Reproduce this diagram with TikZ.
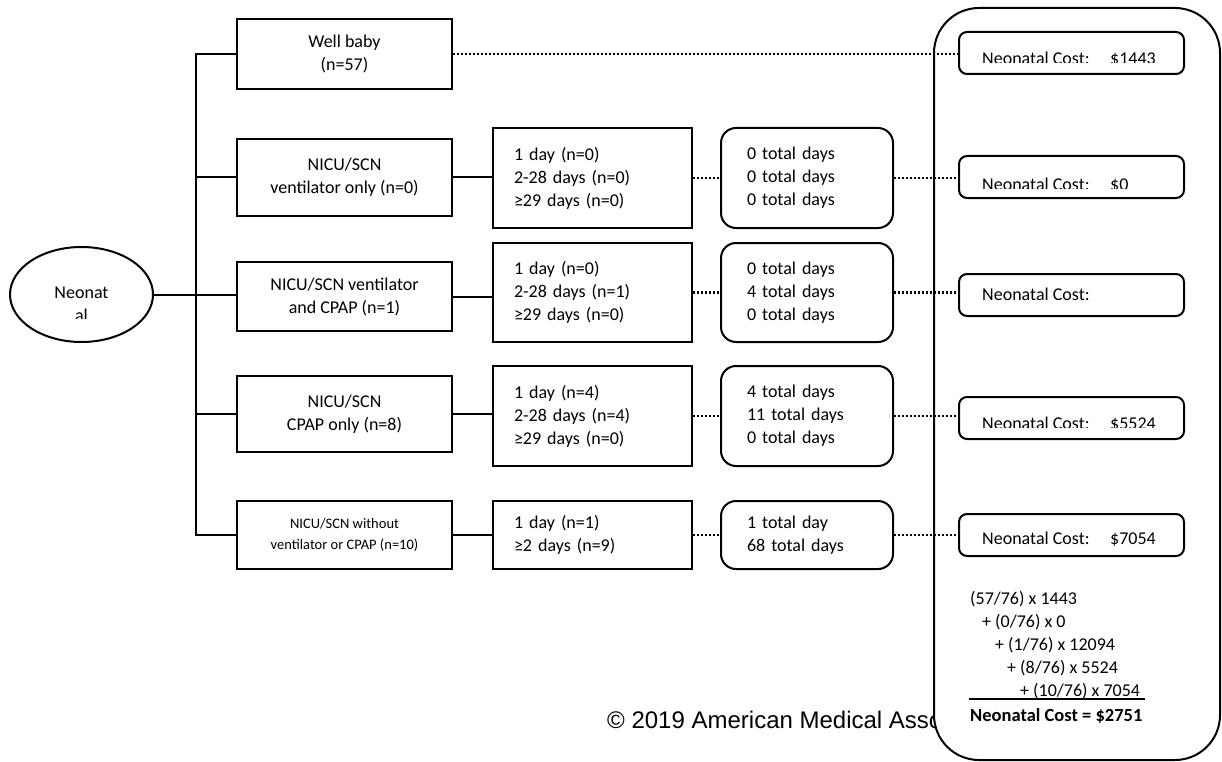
\documentclass[tikz,border=0pt]{standalone}
\usepackage{fontspec}
\setmainfont{Carlito}
\newfontfamily\arialfont{Liberation Sans}
\usetikzlibrary{shapes.geometric}
\begin{document}
\begin{tikzpicture}[x=1pt,y=-1pt,
  ln/.style={line width=2pt},
  dl/.style={line width=2.4pt, dash pattern=on 2.2pt off 1.8pt},
  fnt/.style={font=\fontsize{18}{23}\selectfont},
  lbox/.style={draw, ln, fnt, align=center, minimum width=215pt, inner sep=0pt},
  dbox/.style={draw, ln, fnt, align=left, text width=157pt, inner xsep=21pt, inner ysep=0pt},
  tbox/.style={draw, ln, fnt, rounded corners=15pt, align=left, text width=120pt, inner xsep=26pt, inner ysep=0pt},
  cbox/.style={draw, ln, rounded corners=8pt, minimum width=225pt, minimum height=42pt, inner sep=0pt},
  ctext/.style={fnt, anchor=base west, inner sep=0pt},
]
\path[use as bounding box] (0,0) rectangle (1222,762);

% copyright (cut off by the panel)
\begin{scope}
  \clip (590,700) rectangle (934,740);
  \node[anchor=base west, font=\arialfont\fontsize{24}{28}\selectfont, inner sep=0pt] (copy) at (607,728) {© 2019 American Medical Asso};
\end{scope}

% right panel
\node[draw, ln, fill=white, rounded corners=45pt, minimum width=286pt, minimum height=752pt, inner sep=0pt] (panel) at (1077,384) {};

% root
\node[ellipse, draw, ln, minimum width=143pt, minimum height=95pt, inner sep=0pt] (ell) at (81.5,294.5) {};
\begin{scope}
  \clip (20,260) rectangle (140,318);
  \node[fnt, anchor=base, align=center, inner sep=0pt] (ellt) at (81.5,321) {Neonat\\al};
\end{scope}

% left boxes
\node[lbox, minimum height=70pt] (l1) at (344.5,54) {Well baby\\(n=57)};
\node[lbox, minimum height=77pt] (l2) at (344.5,177.5) {NICU/SCN\\ventilator only (n=0)};
\node[lbox, minimum height=69pt] (l3) at (344.5,296.5) {NICU/SCN ventilator\\and CPAP (n=1)};
\node[lbox, minimum height=76pt] (l4) at (344.5,414) {NICU/SCN\\CPAP only (n=8)};
\node[lbox, minimum height=68pt, font=\fontsize{14.5}{21}\selectfont] (l5) at (344.5,535) {NICU/SCN without\\ventilator or CPAP (n=10)};

% day boxes
\node[dbox, minimum height=100pt] (d2) at (592.5,178) {1 day (n=0)\\2-28 days (n=0)\\≥29 days (n=0)};
\node[dbox, minimum height=99pt] (d3) at (592.5,292.5) {1 day (n=0)\\2-28 days (n=1)\\≥29 days (n=0)};
\node[dbox, minimum height=100pt] (d4) at (592.5,416) {1 day (n=4)\\2-28 days (n=4)\\≥29 days (n=0)};
\node[dbox, minimum height=68pt] (d5) at (592.5,535) {1 day (n=1)\\≥2 days (n=9)};

% total boxes
\node[tbox, minimum height=100pt] (t2) at (807,178) {0 total days\\0 total days\\0 total days};
\node[tbox, minimum height=99pt] (t3) at (807,292.5) {0 total days\\4 total days\\0 total days};
\node[tbox, minimum height=100pt] (t4) at (807,416) {4 total days\\11 total days\\0 total days};
\node[tbox, minimum height=68pt] (t5) at (807,535) {1 total day\\68 total days};

% cost boxes
\node[cbox] (c1) at (1071.5,53) {};
\node[cbox] (c2) at (1071.5,177) {};
\node[cbox] (c3) at (1071.5,295) {};
\node[cbox] (c4) at (1071.5,418) {};
\node[cbox] (c5) at (1071.5,535) {};
\begin{scope}
  \clip (959,32) rectangle (1184,63);
  \node[ctext] (c1t) at (982,65) {\makebox[128pt][l]{Neonatal Cost:}\$1443};
\end{scope}
\begin{scope}
  \clip (959,156) rectangle (1184,188);
  \node[ctext] (c2t) at (982,190) {\makebox[128pt][l]{Neonatal Cost:}\$0};
\end{scope}
\node[ctext] (c3t) at (982,300) {Neonatal Cost:};
\begin{scope}
  \clip (959,397) rectangle (1184,427);
  \node[ctext] (c4t) at (982,429) {\makebox[128pt][l]{Neonatal Cost:}\$5524};
\end{scope}
\node[ctext] (c5t) at (982,544) {\makebox[128pt][l]{Neonatal Cost:}\$7054};

% formula
\node[fnt, anchor=base west, align=left, inner sep=0pt] (form) at (970,696) {(57/76) x 1443\\\hspace*{12pt}+ (0/76) x 0\\\hspace*{25pt}+ (1/76) x 12094\\\hspace*{37pt}+ (8/76) x 5524\\\hspace*{50pt}+ (10/76) x 7054};
\draw[line width=1.8pt] (969,699) -- (1145,699);
\node[anchor=base west, font=\bfseries\fontsize{18.5}{22}\selectfont, inner sep=0pt] (total) at (970,721) {Neonatal Cost = \$2751};

% solid connectors
\coordinate (tr) at (196,0);
\draw[ln] (l1.west) -- (l1.west -| tr) -- (l5.west -| tr) -- (l5.west);
\draw[ln] (l2.west -| tr) -- (l2.west);
\draw[ln] (l4.west -| tr) -- (l4.west);
\draw[ln] (ell.east) -- (ell.east -| l3.west);
\foreach \k in {2,3,4,5}{
  \draw[ln] (l\k.east) -- (l\k.east -| d\k.west);
  \draw[dl] (d\k.east) -- (d\k.east -| t\k.west);
  \draw[dl] (t\k.east) -- (t\k.east -| c\k.west);
}
\draw[dl] (l1.east) -- (l1.east -| c1.west);
\end{tikzpicture}
\end{document}
